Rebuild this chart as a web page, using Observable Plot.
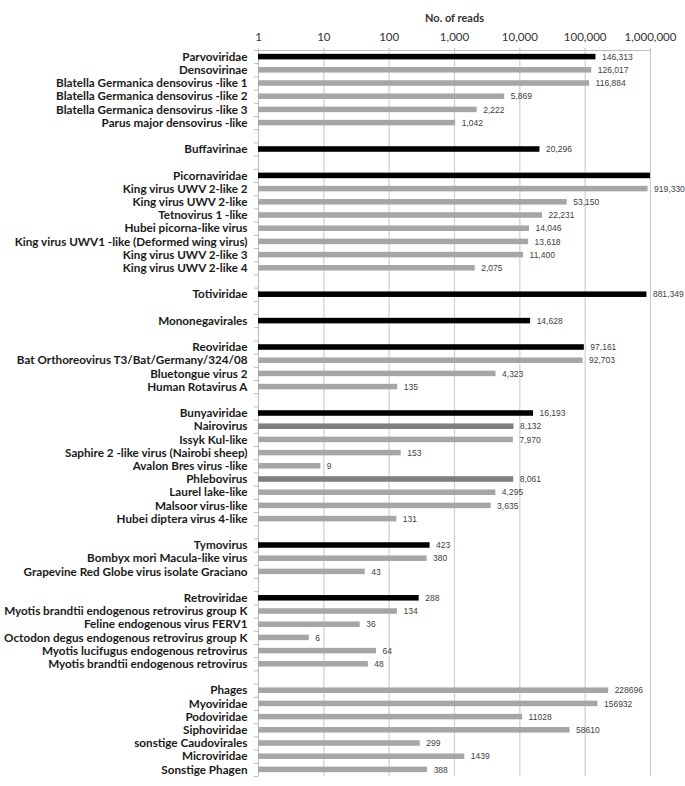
<!DOCTYPE html>
<html><head><meta charset="utf-8">
<script src="https://cdn.jsdelivr.net/npm/d3@7"></script>
<script src="https://cdn.jsdelivr.net/npm/@observablehq/plot@0.6"></script>
<style>body{margin:0;background:#fff}</style>
</head><body><div id="chart"></div>
<script>
// Rows top to bottom; "_gap" entries are empty spacer rows
const categories = [
  "Parvoviridae","Densovirinae","Blatella Germanica densovirus -like 1","Blatella Germanica densovirus -like 2","Blatella Germanica densovirus -like 3","Parus major densovirus -like",
  "_gap1",
  "Buffavirinae",
  "_gap2",
  "Picornaviridae","King virus UWV 2-like 2","King virus UWV 2-like","Tetnovirus 1 -like","Hubei picorna-like virus","King virus UWV1 -like (Deformed wing virus)","King virus UWV 2-like 3","King virus UWV 2-like 4",
  "_gap3",
  "Totiviridae",
  "_gap4",
  "Mononegavirales",
  "_gap5",
  "Reoviridae","Bat Orthoreovirus T3/Bat/Germany/324/08","Bluetongue virus 2","Human Rotavirus A",
  "_gap6",
  "Bunyaviridae","Nairovirus","Issyk Kul-like","Saphire 2 -like virus (Nairobi sheep)","Avalon Bres virus -like","Phlebovirus","Laurel lake-like","Malsoor virus-like","Hubei diptera virus 4-like",
  "_gap7",
  "Tymovirus","Bombyx mori Macula-like virus","Grapevine Red Globe virus isolate Graciano",
  "_gap8",
  "Retroviridae","Myotis brandtii endogenous retrovirus group K","Feline endogenous virus FERV1","Octodon degus endogenous retrovirus group K","Myotis lucifugus endogenous retrovirus","Myotis brandtii endogenous retrovirus",
  "_gap9",
  "Phages","Myoviridae","Podoviridae","Siphoviridae","sonstige Caudovirales","Microviridae","Sonstige Phagen"
];
const reads = [
  146313,126017,116884,5869,2222,1042,
  null,
  20296,
  null,
  1035850,919330,53150,22231,14046,13618,11400,2075,
  null,
  881349,
  null,
  14628,
  null,
  97161,92703,4323,135,
  null,
  16193,8132,7970,153,9,8061,4295,3635,131,
  null,
  423,380,43,
  null,
  288,134,36,6,64,48,
  null,
  228696,156932,11028,58610,299,1439,388
];
// F = family total (black), G = genus (dark grey), S = sub-entry (light grey)
const levels = [
  "F","S","S","S","S","S",
  null,
  "F",
  null,
  "F","S","S","S","S","S","S","S",
  null,
  "F",
  null,
  "F",
  null,
  "F","S","S","S",
  null,
  "F","G","S","S","S","G","S","S","S",
  null,
  "F","S","S",
  null,
  "F","S","S","S","S","S",
  null,
  "S","S","S","S","S","S","S"
];
const xTicks = [1, 10, 100, 1000, 10000, 100000, 1000000];
const plainLabelsFrom = "Phages"; // rows from here on are labelled without thousands separators

const plainStart = categories.indexOf(plainLabelsFrom);
const rows = categories.map((name, i) => ({
  name, value: reads[i], level: levels[i],
  label: reads[i] == null || reads[i] > xTicks[xTicks.length - 1] ? "" :
    (i >= plainStart ? String(reads[i]) : d3.format(",")(reads[i]))
})).filter(d => d.value != null);

const W = 685, H = 786, mT = 50, mB = 10, mL = 258, mR = 35;
const step = (H - mT - mB) / categories.length;
const fontAxis = "Lato, 'Liberation Sans', sans-serif";

const chart = Plot.plot({
  width: W, height: H,
  marginTop: mT, marginBottom: mB, marginLeft: mL, marginRight: mR,
  style: {fontFamily: fontAxis, background: "#fff", color: "#1a1a1a"},
  x: {type: "log", domain: [1, 1000000], clamp: true},
  y: {domain: categories, paddingInner: 0.58, paddingOuter: 0.29, round: false},
  color: {domain: ["F", "G", "S"], range: ["#000000", "#7f7f7f", "#a6a6a6"]},
  marks: [
    Plot.ruleX(xTicks, {stroke: "#cfcfcf", strokeWidth: 1.2}),
    Plot.frame({anchor: "top", stroke: "#bdbdbd"}),
    Plot.ruleY(categories, {y: d => d, x1: 1, x2: 1, insetLeft: -4, dy: -step / 2, stroke: "#bdbdbd"}),
    Plot.ruleY(categories.slice(-1), {y: d => d, x1: 1, x2: 1, insetLeft: -4, dy: step / 2, stroke: "#bdbdbd"}),
    Plot.ruleX([1], {stroke: "#bdbdbd"}),
    Plot.barX(rows, {y: "name", x1: 1, x2: "value", fill: "level"}),
    Plot.text(rows, {y: "name", x: "value", text: "label", dx: 6, textAnchor: "start",
      fontFamily: "'Liberation Sans', Arial, sans-serif", fontSize: 8.5, fill: "#404040"}),
    Plot.axisX({anchor: "top", ticks: xTicks, tickFormat: d3.format(","), tickSize: 3, tickPadding: 7,
      stroke: "#bdbdbd", fontSize: 11.5, fill: "#333",
      label: "No. of reads", labelAnchor: "center", labelArrow: "none", labelOffset: 36}),
    Plot.axisY({tickSize: 0, tickPadding: 11, fontSize: 11.7, fontWeight: "bold", fill: "#1a1a1a",
      tickFormat: d => d.startsWith("_gap") ? "" : d, label: null})
  ]
});
chart.querySelectorAll("[aria-label='x-axis label'] text").forEach(t => {
  t.setAttribute("font-weight", "bold"); t.setAttribute("font-size", "11");
});
document.getElementById("chart").append(chart);
</script>
</body></html>
